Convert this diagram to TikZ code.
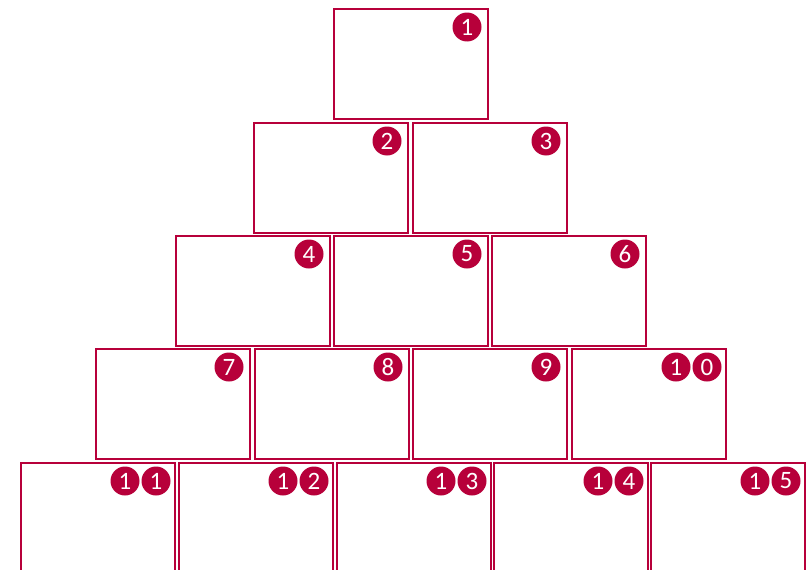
\documentclass[tikz,border=0pt]{standalone}
\usepackage{fontspec}
\newfontfamily\numfont{Carlito}
\usetikzlibrary{calc}
\definecolor{crim}{RGB}{183,0,58}
\tikzset{
  cell/.style={draw=crim, line width=2pt, minimum width=154pt, minimum height=110pt, inner sep=0pt, fill=white},
  badge/.style={circle, fill=crim, minimum size=29pt, inner sep=0pt, text=white, font=\numfont\fontsize{25}{25}\selectfont}
}
\begin{document}
\begin{tikzpicture}[x=1pt,y=-1pt]
\useasboundingbox (0,0) rectangle (811,570);
\begin{scope}
\clip (0,0) rectangle (811,570);
% boxes: name/center x/top y
\foreach \n/\x/\t in {1/411/8, 2/331/122, 3/490/122, 4/253/235, 5/411/235, 6/569/235,
  7/173/348, 8/332/348, 9/490/348, 10/649/348,
  11/98/462, 12/256/462, 13/414/462, 14/571/462, 15/728/462}
  \node[cell] (b\n) at (\x,\t+56) {};
% single-digit badges
\foreach \n in {1,...,9}
  \node[badge] (c\n) at ($(b\n.north east)+(-22,19)$) {\n};
% two-digit badges
\foreach \n/\a/\b in {10/1/0, 11/1/1, 12/1/2, 13/1/3, 14/1/4, 15/1/5}{
  \node[badge] (c\n b) at ($(b\n.north east)+(-20,19)$) {\b};
  \node[badge] (c\n a) at ($(b\n.north east)+(-51,19)$) {\a};
}
\end{scope}
\end{tikzpicture}
\end{document}
